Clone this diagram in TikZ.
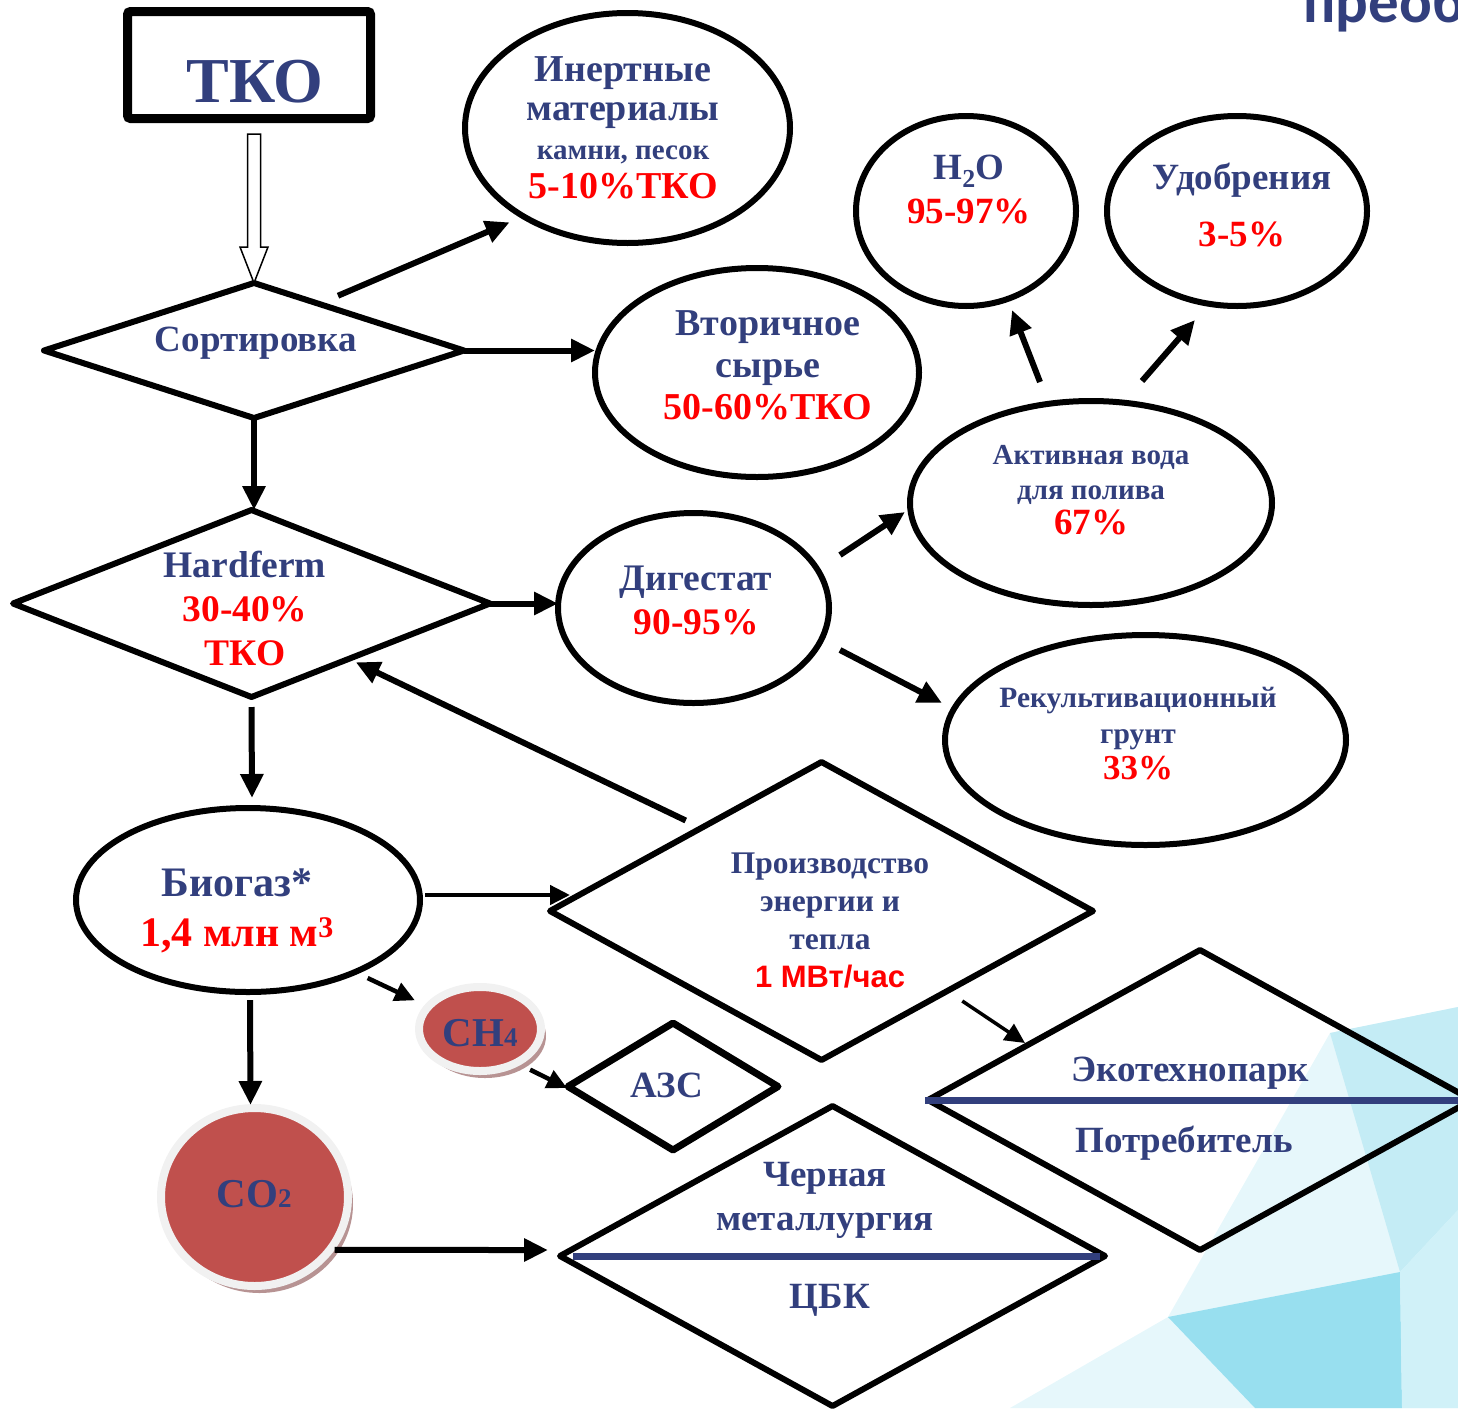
\documentclass[tikz,border=0pt]{standalone}
\usepackage{fontspec}
\setmainfont{Liberation Serif}
\newfontfamily\arialfont{Liberation Sans}
\newfontfamily\calfont{Carlito}
\usetikzlibrary{shapes.geometric,arrows.meta,calc,shadows}
\definecolor{navy}{RGB}{50,63,125}
\definecolor{pctred}{RGB}{255,0,0}
\definecolor{gasred}{RGB}{192,80,77}
\definecolor{rim}{RGB}{241,241,241}
\definecolor{gasshade}{RGB}{183,147,147}
\definecolor{skyA}{RGB}{230,247,251}
\definecolor{skyB}{RGB}{196,236,245}
\definecolor{skyC}{RGB}{152,223,239}
\definecolor{skyD}{RGB}{208,241,248}
\newcommand{\fsz}[2]{\fontsize{#1}{#2}\selectfont}
\newcommand{\pct}[1]{\textcolor{pctred}{#1}}
\tikzstyle{oval} = [draw, ellipse, line width=6pt, inner sep=0pt, outer sep=0pt]
\tikzstyle{rhomb} = [draw, diamond, line width=6pt, line join=round, inner sep=0pt, outer sep=0pt]
\tikzstyle{gas} = [ellipse, fill=gasred, draw=rim, line width=8pt, inner sep=0pt, outer sep=0pt, drop shadow={shadow xshift=5pt, shadow yshift=-7pt, fill=gasshade, opacity=1}]
\tikzstyle{txt} = [text=navy, font=\bfseries\fsz{37}{44}, align=center, inner sep=0pt]
\tikzstyle{arr} = [line width=6pt, -{Triangle[length=24pt, width=22pt]}]
\tikzstyle{thinarr} = [line width=4.5pt, -{Triangle[length=20pt, width=19pt]}]
\tikzstyle{hollow} = [draw, line width=1.5pt, fill=white]
\tikzstyle{bar} = [draw=navy, line width=7pt]

\begin{document}
\begin{tikzpicture}[x=1pt, y=-1pt]
	\useasboundingbox (0,0) rectangle (1458,1408);
	\clip (0,0) rectangle (1458,1408);
	% background corner
	\fill[skyA] (1010,1408) -- (1168,1317) -- (1330,1033) -- (1458,1007) -- (1458,1408) -- cycle;
	\fill[skyB] (1330,1033) -- (1458,1007) -- (1458,1210) -- (1400,1272) -- cycle;
	\fill[skyC] (1168,1317) -- (1400,1272) -- (1402,1408) -- (1255,1408) -- cycle;
	\fill[skyD] (1400,1272) -- (1458,1210) -- (1458,1408) -- (1402,1408) -- cycle;
	\node[anchor=base west, text=navy, font=\calfont\bfseries\fsz{61}{64}, inner sep=0pt] (title) at (1303,23) {преоб};

	% shapes
	\node[draw, line width=9pt, rounded corners=3pt, minimum width=243pt, minimum height=107pt, outer sep=0pt] (tko) at (249,65) {};
	\node[rhomb, minimum width=420pt, minimum height=135pt] (sort) at (254,350.5) {};
	\node[rhomb, minimum width=477pt, minimum height=187pt] (hard) at (251.5,603.5) {};
	\node[rhomb, minimum width=543pt, minimum height=298pt] (proizv) at (821.5,911) {};
	\node[rhomb, line width=7pt, minimum width=210pt, minimum height=127pt] (azs) at (673,1086.5) {};
	\node[rhomb, minimum width=545pt, minimum height=300pt] (chern) at (832.5,1256) {};
	\node[rhomb, minimum width=544pt, minimum height=300pt] (eco) at (1200,1100) {};
	\node[oval, minimum width=325pt, minimum height=230pt] (inert) at (627.5,128) {};
	\node[oval, minimum width=324pt, minimum height=209pt] (vtor) at (757,372.5) {};
	\node[oval, minimum width=220pt, minimum height=190pt] (h2o) at (966,211) {};
	\node[oval, minimum width=260pt, minimum height=190pt] (udob) at (1237,211) {};
	\node[oval, minimum width=362pt, minimum height=204pt] (active) at (1091,503) {};
	\node[oval, minimum width=271pt, minimum height=190pt] (dig) at (693.5,608) {};
	\node[oval, minimum width=401pt, minimum height=210pt] (rekult) at (1145.5,740) {};
	\node[oval, minimum width=344pt, minimum height=184pt] (biogas) at (248,900) {};
	\node[gas, minimum width=122pt, minimum height=84pt] (ch4) at (480,1029) {};
	\node[gas, minimum width=187pt, minimum height=178pt] (co2) at (254.5,1197) {};
	\draw[bar, shorten <=13pt, shorten >=5pt] (chern.west) -- (chern.east);
	\draw[bar, shorten <=-3pt] (eco.west) -- (eco.east);

	% texts
	\node[txt, font=\bfseries\fsz{64}{74}] (tko-t) at (255,82) {ТКО};
	\node[txt] (sort-t) at (256,343) {Сортировка};
	\node[txt, font=\bfseries\fsz{37.5}{44}] (hard-t) at (245,608) {Hardferm\\\pct{30-40\%}\\\pct{ТКО}};
	\node[txt, font=\bfseries\fsz{38}{39}] (inert-t) at (623,128) {Инертные\\материалы\\{\fsz{29}{36}камни, песок}\\\pct{5-10\%ТКО}};
	\node[txt, font=\bfseries\fsz{38}{42}] (vtor-t) at (768,365) {Вторичное\\сырье\\\pct{50-60\%ТКО}};
	\node[txt, font=\bfseries\fsz{37}{44}] (h2o-t) at (969,189) {H\textsubscript{2}O\\\pct{95-97\%}};
	\node[txt, font=\bfseries\fsz{37}{44}] (udob-t) at (1242,205) {Удобрения\\[13pt]\pct{3-5\%}};
	\node[txt, font=\bfseries\fsz{29}{35}] (active-t) at (1091,490) {Активная вода\\для полива\\\pct{\fsz{37}{36}67\%}};
	\node[txt, font=\bfseries\fsz{37.5}{44}] (dig-t) at (696,600) {Дигестат\\\pct{90-95\%}};
	\node[txt, font=\bfseries\fsz{29.5}{36}] (rekult-t) at (1138,734) {Рекультивационный\\грунт\\\pct{\fsz{35}{36}33\%}};
	\node[txt, font=\bfseries\fsz{42}{50}] (biogas-t) at (237,911) {Биогаз*\\\pct{1,4 млн м\textsuperscript{\fsz{30}{30}3}}};
	\node[txt, font=\bfseries\fsz{31.5}{38}] (proizv-t) at (830,920) {Производство\\энергии и\\тепла\\{\arialfont\fsz{31}{38}\pct{1 МВт/час}}};
	\node[txt] (azs-t) at (667,1085) {АЗС};
	\node[txt] (chern-t) at (825,1200) {Черная\\металлургия};
	\node[txt] (cbk-t) at (830,1300) {ЦБК};
	\node[txt] (eco-t) at (1190,1073) {Экотехнопарк};
	\node[txt] (cons-t) at (1184,1143) {Потребитель};
	\node[txt, font=\bfseries\fsz{41}{44}] (ch4-t) at (480,1033) {CH{\fsz{27}{27}4}};
	\node[txt, font=\bfseries\fsz{41}{44}] (co2-t) at (254,1194) {CO{\fsz{27}{27}2}};

	% arrows
	\draw[hollow] (sort.north) -- ++(-14,-36) -- ++(7.5,0) -- ++(0,-113) -- ++(13,0) -- ++(0,113) -- ++(7.5,0) -- cycle;
	\draw[arr] ($(sort.north east)+(-21,-21)$) -- ($(inert.south west)+(-3,13)$);
	\draw[arr] (sort.east) -- (sort.east -| vtor.west);
	\draw[arr] (sort.south) -- (sort.south |- hard.north);
	\draw[arr] (hard.east) -- (hard.east -| dig.west);
	\draw[arr] ($(dig.east)+(11,-53)$) -- ($(active.west)+(-5,9)$);
	\draw[arr] ($(dig.east)+(11,42)$) -- ($(rekult.west)+(-3,-37)$);
	\draw[arr] ($(active.north)+(-51,-19)$) -- ($(h2o.south)+(46,4)$);
	\draw[arr] ($(active.north)+(51,-20)$) -- ($(udob.south)+(-42,14)$);
	\draw[arr] ($(hard.south)+(0,10)$) -- ($(biogas.north)+(4,-10)$);
	\draw[thinarr] ($(biogas.east)+(5,-5)$) -- ($(proizv.west)+(20,-16)$);
	\draw[arr] ($(proizv.north west)+(0,-16)$) -- ($(hard.south east)+(-15,12)$);
	\draw[thinarr] ($(biogas.south east)+(-2,13)$) -- ($(ch4.north west)+(-22,1)$);
	\draw[arr] ($(biogas.south)+(2,8)$) -- ($(co2.north)+(-4,-3)$);
	\draw[thinarr] ($(ch4.south east)+(7,11)$) -- ($(azs.west)+(-1,1.5)$);
	\draw[arr] ($(co2.south east)+(14,-10)$) -- ($(chern.west)+(-12,-6)$);
	\draw[thinarr, line width=3.5pt] ($(proizv.south east)+(5,15.5)$) -- ($(eco.north west)+(-39,18)$);
\end{tikzpicture}
\end{document}
